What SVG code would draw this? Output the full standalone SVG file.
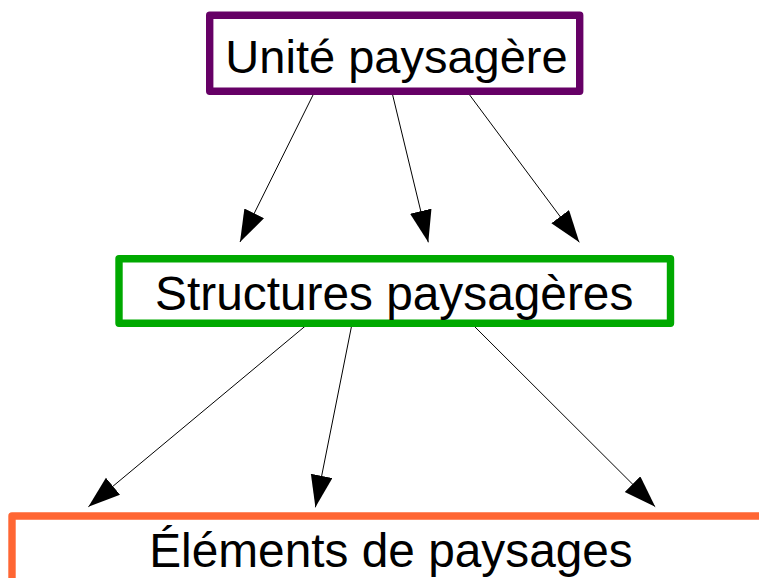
<svg xmlns="http://www.w3.org/2000/svg" width="759" height="578" viewBox="0 0 759 578">
<style>
.box{fill:#ffffff;stroke-width:7.4;stroke-linejoin:round}
.lbl{font-family:"Liberation Sans",Arial,sans-serif;font-size:47px;fill:#000000;text-anchor:middle}
.big{font-size:47.8px}
.conn{stroke:#000000;stroke-width:1;fill:none;marker-end:url(#arrow)}
</style>
<defs>
<marker id="arrow" markerUnits="userSpaceOnUse" markerWidth="33" markerHeight="23" refX="32" refY="11" orient="auto">
<path d="M0,0 L32,11 L0,22 z" fill="#000000"/>
</marker>
</defs>
<rect width="759" height="578" fill="#ffffff"/>
<g id="connectors">
<line class="conn" x1="315" y1="91" x2="240" y2="242"/>
<line class="conn" x1="391.7" y1="91" x2="428.3" y2="242.3"/>
<line class="conn" x1="466.7" y1="91" x2="579.3" y2="242.3"/>
<line class="conn" x1="313.4" y1="319.3" x2="88.4" y2="506.7"/>
<line class="conn" x1="352.9" y1="319.3" x2="315.4" y2="507.3"/>
<line class="conn" x1="467.3" y1="319.3" x2="655.2" y2="506.7"/>
</g>
<g id="unite">
<rect class="box" x="209.7" y="15.3" width="370" height="76" stroke="#660066"/>
<text class="lbl" x="396.5" y="72.5">Unité paysagère</text>
</g>
<g id="structures">
<rect class="box" x="119" y="258.7" width="551.5" height="64.5" stroke="#00a900"/>
<text class="lbl big" x="394.2" y="310">Structures paysagères</text>
</g>
<g id="elements">
<rect class="box" x="12" y="516" width="800" height="65.6" stroke="#ff6633"/>
<text class="lbl big" x="391" y="567">Éléments de paysages</text>
</g>
</svg>
